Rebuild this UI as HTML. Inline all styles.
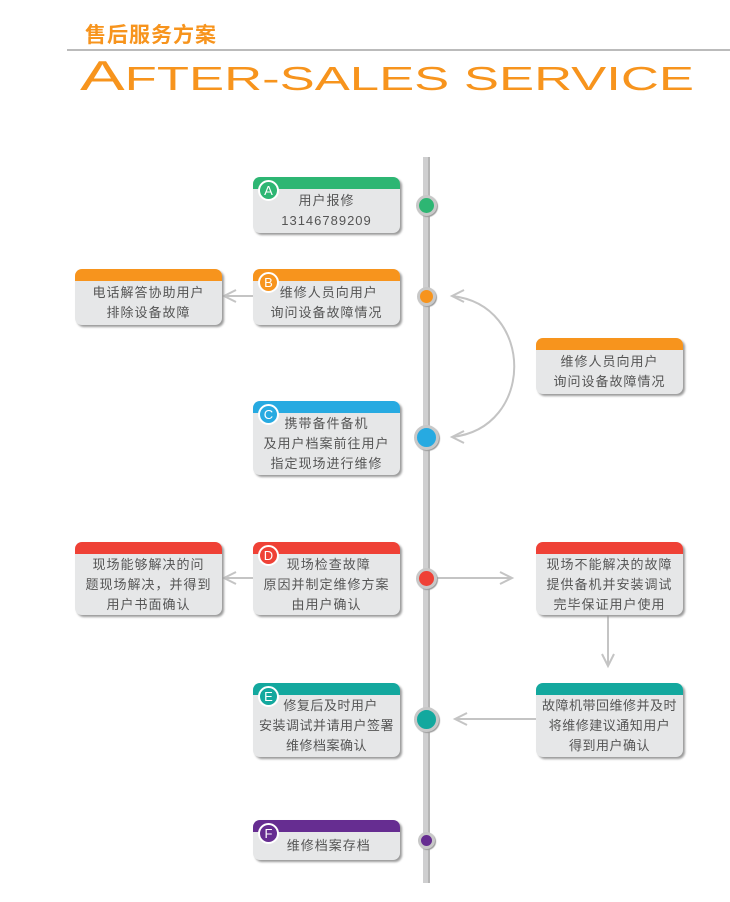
<!DOCTYPE html>
<html><head><meta charset="utf-8"><style>
body{margin:0;background:#fff;}
#c{position:relative;width:730px;height:902px;overflow:hidden;font-family:"Liberation Sans","Noto Sans CJK SC",sans-serif;}
.b{position:absolute;width:147px;background:#e6e7e8;border-radius:7px;box-shadow:2px 2px 2px #9a9a9a;overflow:hidden;}
.h{height:12px;}
.t{display:flex;flex-direction:column;justify-content:center;align-items:center;font-size:13px;line-height:20px;color:#555;letter-spacing:1px;white-space:nowrap;}
.bd{position:absolute;width:17px;height:17px;border:2px solid #fff;border-radius:50%;color:#fff;font-size:13px;line-height:17px;text-align:center;}
.d{position:absolute;border-radius:50%;border:3px solid #c8c8c8;box-shadow:1px 1px 1px #999;}
</style></head><body><div id="c">
<div style="position:absolute;left:85px;top:19px;font-size:21px;font-weight:bold;color:#f7941d;font-family:'Liberation Sans','Noto Sans CJK SC',sans-serif;letter-spacing:1px;">售后服务方案</div>
<div style="position:absolute;left:67px;top:49px;width:663px;height:2px;background:#bbb;"></div>
<svg width="730" height="902" style="position:absolute;left:0;top:0">
<text x="80" y="90" fill="#f7941d" font-family="Liberation Sans" font-size="33" textLength="614" lengthAdjust="spacingAndGlyphs"><tspan font-size="42">A</tspan>FTER-SALES SERVICE</text>
<rect x="423" y="157" width="7" height="726" fill="#cfcfd0"/>
<rect x="428" y="157" width="2" height="726" fill="#b5b5b5"/>
<g stroke="#c4c4c4" stroke-width="2" fill="none">
<line x1="253" y1="296" x2="224" y2="296"/><polyline points="236,290 224,296 236,302"/>
<line x1="253" y1="578" x2="224" y2="578"/><polyline points="236,572 224,578 236,584"/>
<line x1="432" y1="578" x2="512" y2="578"/><polyline points="500,572 512,578 500,584"/>
<line x1="608" y1="615" x2="608" y2="666"/><polyline points="602,654 608,666 614,654"/>
<line x1="536" y1="719" x2="455" y2="719"/><polyline points="467,713 455,719 467,725"/>
<path d="M452,296 C535,305 535,428 452,437"/>
<polyline points="464,290 452,296 464,302"/><polyline points="464,431 452,437 464,443"/>
</g>
</svg>
<div class="d" style="left:416px;top:195px;width:15px;height:15px;background:#2db673"></div>
<div class="d" style="left:417px;top:287px;width:13px;height:13px;background:#f7941d"></div>
<div class="d" style="left:414px;top:425px;width:19px;height:19px;background:#27aae1"></div>
<div class="d" style="left:416px;top:568px;width:15px;height:15px;background:#ef4136"></div>
<div class="d" style="left:414px;top:707px;width:19px;height:19px;background:#13a89e"></div>
<div class="d" style="left:418px;top:832px;width:11px;height:11px;background:#662d91"></div>

<div class="b" style="left:253px;top:177px;height:56px"><div class="h" style="background:#2db673"></div><div class="t" style="height:44px"><div>用户报修</div><div>13146789209</div></div></div>
<div class="bd" style="left:258px;top:180px;background:#2db673">A</div>

<div class="b" style="left:253px;top:269px;height:56px"><div class="h" style="background:#f7941d"></div><div class="t" style="height:44px"><div>&nbsp;维修人员向用户</div><div>询问设备故障情况</div></div></div>
<div class="bd" style="left:258px;top:272px;background:#f7941d">B</div>

<div class="b" style="left:75px;top:269px;height:56px"><div class="h" style="background:#f7941d"></div><div class="t" style="height:44px"><div>电话解答协助用户</div><div>排除设备故障</div></div></div>

<div class="b" style="left:536px;top:338px;height:56px"><div class="h" style="background:#f7941d"></div><div class="t" style="height:44px"><div>维修人员向用户</div><div>询问设备故障情况</div></div></div>

<div class="b" style="left:253px;top:401px;height:74px"><div class="h" style="background:#27aae1"></div><div class="t" style="height:62px"><div>携带备件备机</div><div>及用户档案前往用户</div><div>指定现场进行维修</div></div></div>
<div class="bd" style="left:258px;top:404px;background:#27aae1">C</div>

<div class="b" style="left:253px;top:542px;height:73px"><div class="h" style="background:#ef4136"></div><div class="t" style="height:61px"><div>&nbsp;现场检查故障</div><div>原因并制定维修方案</div><div>由用户确认</div></div></div>
<div class="bd" style="left:258px;top:545px;background:#ef4136">D</div>

<div class="b" style="left:75px;top:542px;height:73px"><div class="h" style="background:#ef4136"></div><div class="t" style="height:61px"><div>现场能够解决的问</div><div>题现场解决，并得到</div><div>用户书面确认</div></div></div>

<div class="b" style="left:536px;top:542px;height:73px"><div class="h" style="background:#ef4136"></div><div class="t" style="height:61px"><div>现场不能解决的故障</div><div>提供备机并安装调试</div><div>完毕保证用户使用</div></div></div>

<div class="b" style="left:253px;top:683px;height:74px"><div class="h" style="background:#13a89e"></div><div class="t" style="height:62px;letter-spacing:0.5px"><div>&nbsp;&nbsp;修复后及时用户</div><div>安装调试并请用户签署</div><div>维修档案确认</div></div></div>
<div class="bd" style="left:258px;top:686px;background:#13a89e">E</div>

<div class="b" style="left:536px;top:683px;height:74px"><div class="h" style="background:#13a89e"></div><div class="t" style="height:62px;letter-spacing:0.5px"><div>故障机带回维修并及时</div><div>将维修建议通知用户</div><div>得到用户确认</div></div></div>

<div class="b" style="left:253px;top:820px;height:40px"><div class="h" style="background:#662d91"></div><div class="t" style="height:28px"><div>&nbsp;维修档案存档</div></div></div>
<div class="bd" style="left:258px;top:823px;background:#662d91">F</div>
</div></body></html>
